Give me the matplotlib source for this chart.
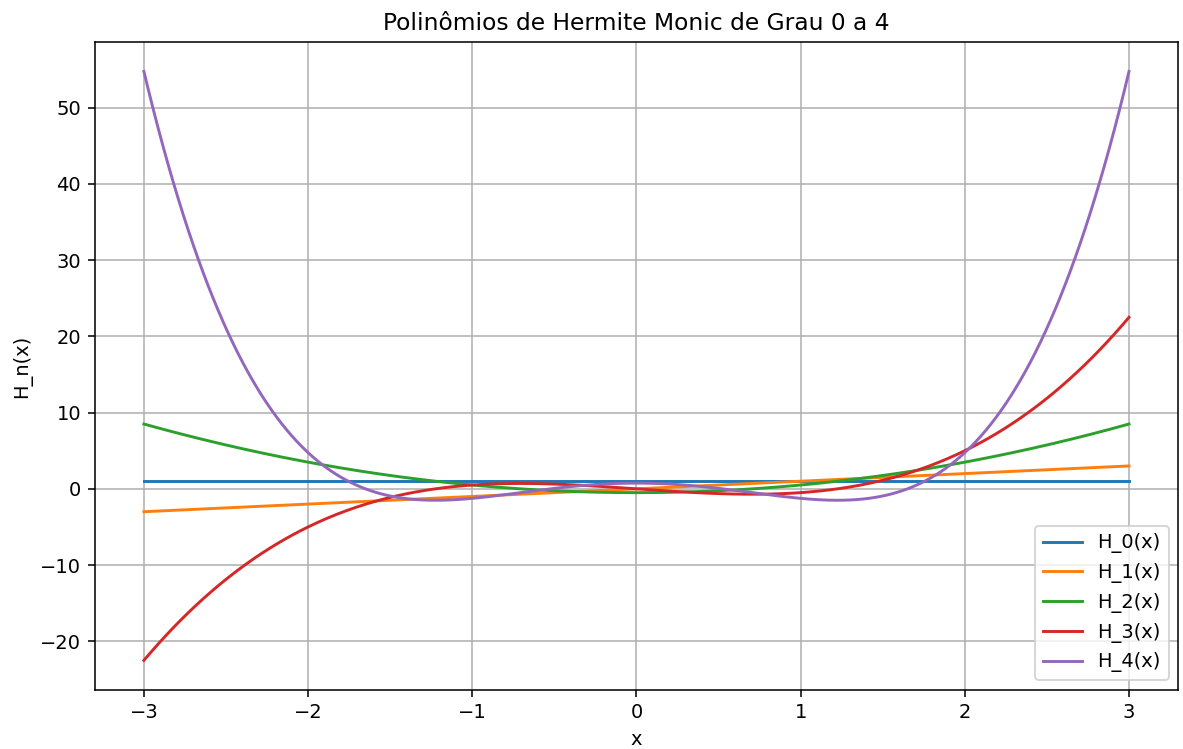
import matplotlib
matplotlib.use('Agg')
import matplotlib.pyplot as plt
import numpy as np
from numpy.polynomial import polynomial as P

# monic Hermite polynomial coefficients (lowest degree first), degree 0..4
labels = ['H_0(x)', 'H_1(x)', 'H_2(x)', 'H_3(x)', 'H_4(x)']
coef_h0 = [1]
coef_h1 = [0, 1]
coef_h2 = [-0.5, 0, 1]
coef_h3 = [0, -1.5, 0, 1]
coef_h4 = [0.75, 0, -3, 0, 1]
coefs = [coef_h0, coef_h1, coef_h2, coef_h3, coef_h4]

x_min, x_max = -3, 3

dpi = 140
fig = plt.figure(figsize=(1183 / dpi, 749 / dpi), dpi=dpi)
ax = fig.add_axes([0.080, 0.079, 0.916, 0.865])

x = np.linspace(x_min, x_max, 400)
for lab, c in zip(labels, coefs):
    ax.plot(x, P.polyval(x, c), label=lab)

ax.set_title('Polinômios de Hermite Monic de Grau 0 a 4')
ax.set_xlabel('x')
ax.set_ylabel('H_n(x)')
ax.grid(True)
ax.legend(loc='lower right')

fig.savefig('out.png', dpi=dpi)
